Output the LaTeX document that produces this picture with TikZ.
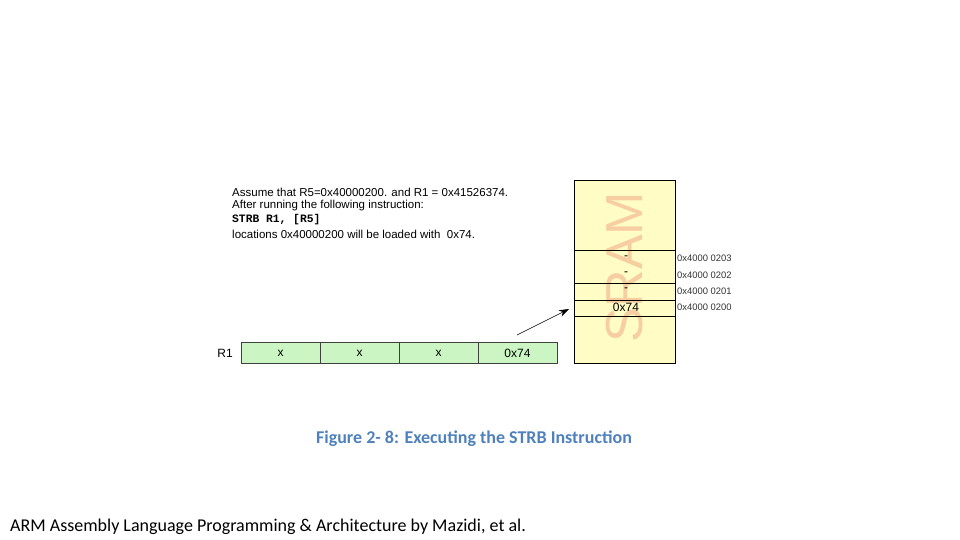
\documentclass[tikz,border=0pt]{standalone}
\usepackage{fontspec}
\setmainfont{Liberation Sans}
\newfontfamily\calibri{Carlito}
\newfontfamily\courier{Liberation Mono}
\usepackage{xcolor}
\definecolor{regfill}{HTML}{CCF5C4}
\definecolor{sramfill}{HTML}{FFFCC6}
\definecolor{sramtext}{HTML}{F7CDA2}
\definecolor{capblue}{HTML}{4F81BD}
\definecolor{linegray}{HTML}{404040}
\usetikzlibrary{arrows.meta,positioning,calc}

\begin{document}
\begin{tikzpicture}[x=1pt,y=-1pt,
      regcell/.style={rectangle, draw=linegray, fill=regfill, minimum width=79pt, minimum height=21pt, inner sep=0pt, font=\fontsize{12}{13}\selectfont, line width=0.5pt},
      note/.style={anchor=west, inner sep=0pt, font=\fontsize{11.5}{13}\selectfont},
      addr/.style={anchor=west, inner sep=0pt, font=\fontsize{9.4}{10}\selectfont, text=black!80},
      cell/.style={inner sep=0pt, font=\fontsize{12}{13}\selectfont},
      arr/.style={-{Stealth[length=10pt,width=7pt]}, black, line width=0.6pt}
    ]
      \useasboundingbox (0,0) rectangle (960,540);
      % instruction text
      \node[note] (l1) at (232,192) {Assume that R5=0x40000200. and R1 = 0x41526374.};
      \node[note] (l2) at (232,206) {After running the following instruction:};
      \node[note] (l3) at (232,220) {\courier\bfseries\fontsize{11.3}{13}\selectfont STRB R1, [R5]};
      \node[note] (l4) at (232,234) {locations 0x40000200 will be loaded with\ \ 0x74.};
      % register R1
      \node[cell, anchor=east] (rname) at (233,353) {R1};
      \node[regcell] (b3) at (280.5,353) {x};
      \node[regcell] (b2) at (359.5,353) {x};
      \node[regcell] (b1) at (438.5,353) {x};
      \node[regcell] (b0) at (517.5,353) {0x74};
      % SRAM block
      \node[rectangle, fill=sramfill, minimum width=100pt, minimum height=182pt, inner sep=0pt] (sram) at (625,272) {};
      \node[rotate=90, text=sramtext, inner sep=0pt, font=\fontsize{52}{52}\selectfont] (wm) at (625,267) {SRAM};
      \draw[black, line width=0.6pt] (575,250.5) -- (675,250.5);
      \draw[black, line width=0.6pt] (575,283) -- (675,283);
      \draw[black, line width=0.6pt] (575,300) -- (675,300);
      \draw[black, line width=0.6pt] (575,316) -- (675,316);
      \draw[black, line width=0.8pt] (sram.south west) rectangle (sram.north east);
      \node[cell] (m3) at (626,258) {-};
      \node[cell] (m2) at (626,274) {-};
      \node[cell] (m1) at (626,290) {-};
      \node[cell] (m0) at (626,307) {0x74};
      \node[addr] (a3) at (677,258) {0x4000 0203};
      \node[addr] (a2) at (677,275) {0x4000 0202};
      \node[addr] (a1) at (677,291) {0x4000 0201};
      \node[addr] (a0) at (677,307) {0x4000 0200};
      % store arrow
      \coordinate (src) at (517,335);
      \coordinate (dst) at (569,309);
      \draw[arr] (src) -- (dst);
      % caption and credit
      \node[text=capblue, inner sep=0pt, font=\calibri\bfseries\fontsize{18}{21}\selectfont] (cap) at (474,438.5) {Figure 2- 8: Executing the STRB Instruction};
      \node[anchor=west, inner sep=0pt, font=\calibri\fontsize{18}{21}\selectfont] (credit) at (10,526.5) {ARM Assembly Language Programming \& Architecture by Mazidi, et al.};
    \end{tikzpicture}
\end{document}
